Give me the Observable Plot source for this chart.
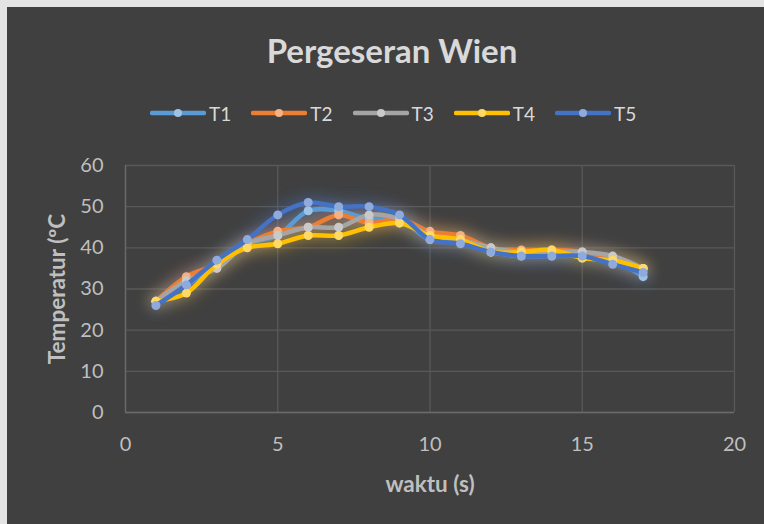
<!DOCTYPE html>
<html><head><meta charset="utf-8">
<script src="https://cdn.jsdelivr.net/npm/d3@7"></script>
<script src="https://cdn.jsdelivr.net/npm/@observablehq/plot@0.6"></script>
<style>
html,body{margin:0;padding:0;background:#e4e4e4;width:764px;height:524px;overflow:hidden;}
#frame{position:absolute;left:7px;top:7px;width:757px;height:517px;background:#404040;overflow:hidden;font-family:Lato,"Open Sans",sans-serif;}
#title{position:absolute;left:385px;top:23px;transform:translateX(-50%);font-size:33px;font-weight:bold;color:#d9d9d9;white-space:nowrap;line-height:40px;}
#legend{position:absolute;left:143px;top:94px;height:24px;display:flex;align-items:center;color:#d9d9d9;font-size:19px;white-space:nowrap;}
.item{display:flex;align-items:center;margin-right:20px;}
.item svg{margin-right:3px;}
#chart{position:absolute;left:0;top:133px;}
</style></head>
<body><div id="frame"><div id="title">Pergeseran Wien</div><div id="legend"></div><div id="chart"></div></div>
<script>
const times = [1,2,3,4,5,6,7,8,9,10,11,12,13,14,15,16,17];
const seriesNames = ["T1","T2","T3","T4","T5"];
const T1 = [27,31,36,41,43,49,49,47,47,42,42,39,38,38,38,37,33];
const T2 = [27,33,36,41,44,45,48,46,47,44,43,40,39.5,39.5,39,37,35];
const T3 = [27,32,35,41,43,45,45,48,47,43,42,40,39,39,39,38,35];
const T4 = [27,29,36,40,41,43,43,45,46,43,42,39,39,39.5,37.5,37,35];
const T5 = [26,31,37,42,48,51,50,50,48,42,41,39,38,38,38,36,34];
const seriesValues = [T1,T2,T3,T4,T5];
const lineColors = ["#5B9BD5","#ED7D31","#A5A5A5","#FFC000","#4472C4"];
const markerColors = ["#9DC3E6","#F4B183","#C9C9C9","#FFD966","#8FAADC"];
const xTicks = [0,5,10,15,20];
const yTicks = [0,10,20,30,40,50,60];

const data = seriesNames.flatMap((s,i)=>times.map((t,j)=>({s, t, v: seriesValues[i][j]})));

// legend
const legend = document.getElementById("legend");
seriesNames.forEach((s,i)=>{
  const it = document.createElement("div"); it.className="item";
  it.innerHTML = `<svg width="56" height="12"><line x1="2" x2="54" y1="6" y2="6" stroke="${lineColors[i]}" stroke-width="4.5" stroke-linecap="round"/><circle cx="28" cy="6" r="4" fill="${markerColors[i]}"/></svg><span>${s}</span>`;
  legend.appendChild(it);
});

const gridColor = "#595959";
const marks = [
  Plot.gridY(yTicks, {stroke: gridColor, strokeOpacity: 1, strokeWidth: 1.3}),
  Plot.gridX(xTicks, {stroke: gridColor, strokeOpacity: 1, strokeWidth: 1.3}),
  Plot.ruleY([0], {stroke: "#6a6a6a", strokeWidth: 1.3}),
  Plot.ruleX([0], {stroke: "#6a6a6a", strokeWidth: 1.3}),
  Plot.axisY(yTicks, {tickSize: 0, tickPadding: 22, fontSize: 20, fill: "#bfbfbf", label: null}),
  Plot.axisX(xTicks, {tickSize: 0, tickPadding: 24, fontSize: 20, fill: "#bfbfbf", label: null}),
  Plot.line(data, {x: "t", y: "v", z: "s", stroke: "s", strokeWidth: 14, strokeOpacity: 0.3, curve: "catmull-rom"}),
];
seriesNames.forEach((s,i)=>{
  const d = data.filter(r=>r.s===s);
  marks.push(Plot.line(d, {x: "t", y: "v", stroke: lineColors[i], strokeWidth: 4.5, curve: "catmull-rom"}));
  marks.push(Plot.dot(d, {x: "t", y: "v", r: 4.5, fill: markerColors[i], stroke: "none"}));
});
marks.push(Plot.text(["Temperatur (ºC"], {frameAnchor: "left", textAnchor: "middle", rotate: -90, dx: -68, fontSize: 22.5, fontWeight: "bold", fill: "#bfbfbf"}));
marks.push(Plot.text(["waktu (s)"], {frameAnchor: "bottom", textAnchor: "middle", dy: 79, fontSize: 22.5, fontWeight: "bold", fill: "#bfbfbf"}));

const svg = Plot.plot({
  width: 757, height: 384,
  marginLeft: 118, marginRight: 30, marginTop: 25, marginBottom: 112,
  style: {background: "transparent", fontFamily: "Lato, 'Open Sans', sans-serif", overflow: "visible"},
  x: {domain: [0,20]},
  y: {domain: [0,60]},
  color: {domain: seriesNames, range: lineColors},
  marks
});
const ns = "http://www.w3.org/2000/svg";
const defs = document.createElementNS(ns, "defs");
defs.innerHTML = '<filter id="glow" x="-20%" y="-40%" width="140%" height="180%"><feGaussianBlur stdDeviation="7"/></filter>';
svg.insertBefore(defs, svg.firstChild);
const glow = svg.querySelector('g[aria-label="line"]');
if (glow) glow.setAttribute("filter", "url(#glow)");
document.getElementById("chart").appendChild(svg);
</script>
</body></html>
